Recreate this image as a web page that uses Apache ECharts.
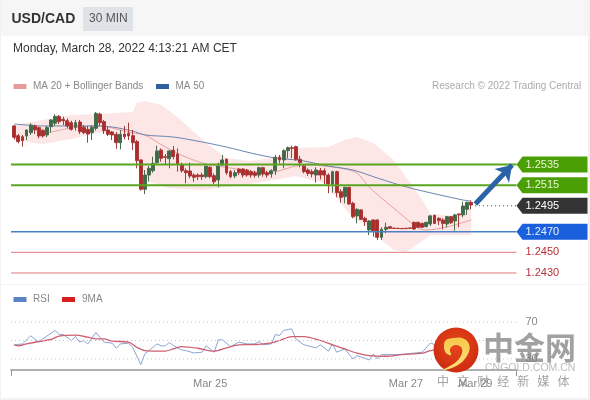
<!DOCTYPE html>
<html><head><meta charset="utf-8">
<style>html,body{margin:0;padding:0;background:#fff}#c{width:590px;height:400px}</style>
<script src="https://cdn.jsdelivr.net/npm/echarts@6/dist/echarts.min.js"></script>
</head><body><div id="c"></div>
<script>
// open, close, low, high
const candles=[
[1.25723,1.25613,1.25593,1.25732],[1.25629,1.25571,1.25555,1.25645],[1.25619,1.25581,1.25523,1.25636],[1.25626,1.25684,1.25587,1.25690],
[1.25658,1.25732,1.25636,1.25749],[1.25723,1.25684,1.25645,1.25736],[1.25707,1.25626,1.25603,1.25716],[1.25681,1.25626,1.25610,1.25690],
[1.25636,1.25707,1.25613,1.25723],[1.25716,1.25781,1.25658,1.25787],[1.25749,1.25816,1.25723,1.25836],[1.25816,1.25765,1.25742,1.25829],
[1.25787,1.25774,1.25732,1.25813],[1.25774,1.25723,1.25700,1.25797],[1.25755,1.25690,1.25678,1.25774],[1.25710,1.25755,1.25678,1.25781],
[1.25761,1.25668,1.25645,1.25781],[1.25710,1.25658,1.25645,1.25732],[1.25690,1.25645,1.25561,1.25723],[1.25658,1.25710,1.25587,1.25729],
[1.25700,1.25845,1.25678,1.25858],[1.25838,1.25755,1.25723,1.25852],[1.25765,1.25678,1.25645,1.25781],[1.25684,1.25642,1.25626,1.25716],
[1.25665,1.25636,1.25587,1.25674],[1.25642,1.25561,1.25503,1.25665],[1.25561,1.25642,1.25497,1.25684],[1.25645,1.25619,1.25593,1.25723],
[1.25652,1.25626,1.25587,1.25755],[1.25629,1.25561,1.25490,1.25684],[1.25571,1.25387,1.25313,1.25587],[1.25394,1.25110,1.25097,1.25400],
[1.25110,1.25248,1.25064,1.25297],[1.25248,1.25313,1.25184,1.25335],[1.25290,1.25361,1.25271,1.25426],[1.25368,1.25481,1.25355,1.25532],
[1.25490,1.25410,1.25377,1.25506],[1.25426,1.25419,1.25355,1.25452],[1.25406,1.25481,1.25313,1.25490],[1.25487,1.25426,1.25400,1.25529],
[1.25452,1.25355,1.25281,1.25506],[1.25345,1.25290,1.25271,1.25368],[1.25290,1.25271,1.25168,1.25313],[1.25287,1.25239,1.25216,1.25368],
[1.25248,1.25226,1.25184,1.25264],[1.25248,1.25232,1.25200,1.25264],[1.25248,1.25232,1.25200,1.25271],[1.25232,1.25335,1.25216,1.25335],
[1.25323,1.25232,1.25216,1.25335],[1.25242,1.25184,1.25161,1.25264],[1.25200,1.25335,1.25129,1.25368],[1.25345,1.25394,1.25335,1.25442],
[1.25400,1.25271,1.25248,1.25410],[1.25281,1.25232,1.25216,1.25297],[1.25239,1.25271,1.25216,1.25297],[1.25306,1.25271,1.25248,1.25313],
[1.25306,1.25248,1.25223,1.25313],[1.25297,1.25248,1.25232,1.25306],[1.25281,1.25248,1.25223,1.25297],[1.25271,1.25245,1.25223,1.25290],
[1.25248,1.25319,1.25223,1.25329],[1.25319,1.25258,1.25232,1.25329],[1.25271,1.25248,1.25223,1.25290],[1.25258,1.25290,1.25223,1.25303],
[1.25290,1.25419,1.25248,1.25442],[1.25419,1.25394,1.25361,1.25442],[1.25394,1.25484,1.25313,1.25497],[1.25484,1.25513,1.25410,1.25523],
[1.25513,1.25506,1.25410,1.25532],[1.25523,1.25400,1.25385,1.25532],[1.25400,1.25368,1.25323,1.25432],[1.25335,1.25281,1.25264,1.25355],
[1.25297,1.25264,1.25239,1.25313],[1.25281,1.25258,1.25226,1.25303],[1.25248,1.25297,1.25174,1.25323],[1.25290,1.25248,1.25206,1.25316],
[1.25290,1.25248,1.25161,1.25313],[1.25248,1.25161,1.25071,1.25264],[1.25161,1.25281,1.25077,1.25290],[1.25281,1.25077,1.25033,1.25290],
[1.25087,1.25032,1.24980,1.25110],[1.25039,1.25129,1.24974,1.25135],[1.25129,1.24968,1.24958,1.25135],[1.24974,1.24845,1.24829,1.24990],
[1.24852,1.24916,1.24780,1.24926],[1.24910,1.24819,1.24813,1.24916],[1.24829,1.24797,1.24755,1.24845],[1.24716,1.24803,1.24667,1.24813],
[1.24813,1.24709,1.24651,1.24819],[1.24813,1.24645,1.24619,1.24819],[1.24645,1.24722,1.24619,1.24742],[1.24722,1.24742,1.24684,1.24787],
[1.24748,1.24732,1.24729,1.24748],[1.24735,1.24731,1.24731,1.24735],[1.24733,1.24730,1.24730,1.24733],[1.24731,1.24728,1.24728,1.24731],
[1.24733,1.24729,1.24729,1.24733],[1.24736,1.24732,1.24732,1.24736],[1.24790,1.24726,1.24716,1.24797],[1.24790,1.24742,1.24735,1.24797],
[1.24780,1.24742,1.24735,1.24787],[1.24748,1.24790,1.24742,1.24797],[1.24774,1.24852,1.24755,1.24862],[1.24858,1.24780,1.24774,1.24864],
[1.24829,1.24806,1.24764,1.24838],[1.24813,1.24780,1.24722,1.24829],[1.24774,1.24845,1.24742,1.24852],[1.24845,1.24787,1.24774,1.24852],
[1.24803,1.24862,1.24709,1.24872],[1.24872,1.24862,1.24742,1.24872],[1.24862,1.24948,1.24838,1.24990],[1.24916,1.24984,1.24862,1.24990],
[1.24984,1.24958,1.24916,1.25000]
];
// [bar index, value] readings
const bbUpper=[[0,1.25732],[7,1.25781],[14,1.25829],[20,1.25839],[29,1.25858],[30,1.25945],[32,1.25965],[36,1.25926],[40,1.25810],[43,1.25703],[47,1.25558],[52,1.25413],[58,1.25384],[64,1.25423],[69,1.25510],[77,1.25519],[81,1.25587],[84,1.25616],[88,1.25558],[93,1.25394],[96,1.25229],[100,1.25006],[102,1.24871],[109,1.24851],[112,1.24929]];
const bbLower=[[0,1.25587],[7,1.25548],[14,1.25597],[20,1.25655],[29,1.25645],[31,1.25316],[33,1.25181],[38,1.25123],[46,1.25103],[50,1.25123],[55,1.25142],[69,1.25239],[76,1.25171],[80,1.24977],[83,1.24832],[87,1.24745],[90,1.24619],[93,1.24522],[96,1.24503],[100,1.24609],[102,1.24668],[112,1.24668]];
const ma20=[[8,1.25655],[14,1.25703],[21,1.25723],[23,1.25713],[29,1.25655],[32,1.25636],[37,1.25519],[42,1.25423],[47,1.25355],[53,1.25316],[62,1.25268],[69,1.25335],[72,1.25345],[78,1.25326],[81,1.25306],[84,1.25268],[87,1.25132],[90,1.25026],[95,1.24861],[99,1.24735],[101,1.24716],[106,1.24745],[112,1.24813]];
const ma50=[[0,1.25742],[7,1.25723],[14,1.25723],[20,1.25723],[24,1.25713],[29,1.25674],[32,1.25636],[39,1.25616],[46,1.25568],[52,1.25519],[58,1.25461],[64,1.25413],[69,1.25394],[71,1.25384],[77,1.25335],[83,1.25297],[89,1.25219],[97,1.25123],[110,1.25006],[112,1.24997]];
const rsi=[[0,45.3],[2,46.3],[4,55.1],[6,48.2],[7,51.8],[10,60.9],[11,56.5],[12,56.5],[14,50],[15,54.3],[16,48.2],[17,50],[18,46.3],[20,58.7],[22,48.2],[24,47.1],[25,41.6],[26,46.3],[28,47.1],[29,42.7],[31,23.8],[32,35.4],[35,46.3],[36,44.2],[37,44.2],[38,47.8],[39,44.5],[41,39.8],[42,39.1],[44,36.5],[46,37.3],[47,44.2],[49,37.3],[50,50.7],[51,50.7],[53,43.4],[55,48.2],[57,46.3],[59,46.3],[60,48.9],[61,45.3],[63,46.3],[64,56.5],[65,55.4],[66,60.9],[68,62.7],[69,51.8],[71,45.3],[74,42],[75,45.3],[77,38.4],[78,46.3],[79,37.3],[81,40.9],[83,30],[84,33.6],[87,28.9],[88,35.4],[89,30],[90,34.7],[94,34.7],[96,35.4],[100,37.3],[102,47.4],[105,42],[108,44],[110,50],[112,52]];
const rsiMa=[[0,45.3],[1,44.2],[3,46.3],[6,48.9],[9,51.1],[11,54.7],[15,55.8],[18,53.6],[20,51.8],[22,51.8],[24,49.3],[28,48.2],[30,42.7],[32,39.1],[37,38.4],[39,40.9],[41,43.4],[45,41.6],[49,38.4],[52,42],[55,45.3],[59,45.6],[63,47.4],[65,50],[68,54.3],[71,54.3],[75,50],[78,45.3],[81,40.9],[84,36.2],[87,33.6],[91,32.9],[95,34.7],[100,36.2],[102,39.1],[106,41],[112,46]];
const resistanceLevels=[1.2535,1.2515];
const pivotLevel=[1.2470];
const supportLevels=[1.2450,1.2430];
const lastPrice=[1.2495];
const rsiLevels=[30,50,70];
const rsiLabels=[30,70];
const dateTicks={48:'Mar 25',96:'Mar 27',113:'Mar 29'};
const forecastArrow=[[113,1.24968],[122,1.25345]];
const barSlots=124;

const FONT='"Liberation Sans"';
const cats=Array.from({length:barSlots},(_,i)=>dateTicks[i]||'');
const gTop=97.35,gH=185.95,rTop=311,rH=59;
const barLeft=12.26,barW=505.9,lineLeft=11,lineW=505.5;
const yCfg={type:'value',min:1.242,max:1.26,show:false,scale:true};
const rCfg={type:'value',min:18,max:82,splitLine:{show:false},axisLine:{show:false},axisTick:{show:false}};
const hLine=(name,xi,yi,val,style,from)=>({type:'line',name,xAxisIndex:xi,yAxisIndex:yi,symbol:'none',silent:true,z:5,
  lineStyle:style,data:[[from||0,val],[1,val]]});
const tagRows=[
 ...resistanceLevels.map(v=>[1,v,'tag','#4a9f05','#e8f5d0']),
 ...lastPrice.map(v=>[1,v,'tag','#333333','#ffffff']),
 ...pivotLevel.map(v=>[1,v,'tag','#1a5fdc','#e8f0ff']),
 ...supportLevels.map(v=>[1,v,'plain','','#b5303a'])
];
const txt=(text,x,y,fill,font,extra)=>({type:'text',z:50,silent:true,style:Object.assign({text,x,y,fill,font,textVerticalAlign:'middle'},extra||{})});
const rect=(x,y,w,h,fill,z,r)=>({type:'rect',z:z==null?50:z,silent:true,shape:{x,y,width:w,height:h,r:r||0},style:{fill}});
const graphic=[
 rect(0,0,590,36,'#f6f6f6',-1),
 rect(83,7,50,24,'#dfe2e7',-1),
 rect(0,284,590,1,'#f1f3f4',-1),
 rect(0,0,1,400,'#f2f2f2',-1),rect(588,0,2,400,'#f2f2f2',-1),rect(0,398,590,2,'#f2f2f2',-1),
 txt('USD/CAD',11.5,19,'#333','bold 14px '+FONT),
 txt('30 MIN',89,19,'#555','12px '+FONT),
 txt('Monday, March 28, 2022 4:13:21 AM CET',13,48.5,'#333','12px '+FONT),
 rect(13.5,84,13,5,'#e89a9a'),
 txt('MA 20 + Bollinger Bands',33,86.5,'#888','10px '+FONT),
 rect(156,84,13,5,'#2f5f9e'),
 txt('MA 50',175.5,86.5,'#888','10px '+FONT),
 txt('Research \u00a9 2022 Trading Central',432,86.5,'#aaa','10px '+FONT),
 rect(13.5,297,13,5,'#5b84c4'),
 txt('RSI',33,299.5,'#888','10px '+FONT),
 rect(62,297,13,5,'#d81e1e'),
 txt('9MA',82,299.5,'#888','10px '+FONT),
 // watermark
 {type:'circle',z:60,silent:true,shape:{cx:456,cy:350,r:22.5},style:{fill:{type:'radial',x:0.5,y:0.4,r:0.7,colorStops:[{offset:0,color:'#e8481c'},{offset:1,color:'#c9260f'}]}}},
 {type:'polygon',z:61,silent:true,shape:{smooth:0.4,points:[[443,370],[458,365],[468,354],[469,344],[462,338],[454,338],[446,340],[444,346],[446,353],[451,355],[450,349],[455,345],[461,347],[462,353],[456,362]]},
  style:{fill:{type:'linear',x:0,y:0,x2:0,y2:1,colorStops:[{offset:0,color:'#f6c94a'},{offset:1,color:'#fbe27a'}]}}},
 txt('\u4e2d\u91d1\u7f51',483,347,'rgba(125,125,125,0.72)','bold 31px "Noto Sans CJK SC"',{}),
 txt('CNGOLD.COM.CN',485,368.5,'rgba(165,165,165,0.75)','10.5px '+FONT),
 txt('\u4e2d   \u6587   \u8d22   \u7ecf   \u65b0   \u5a92   \u4f53',437,381.5,'rgba(130,130,130,0.75)','12px "Noto Sans CJK SC"')
];
const option={
 animation:false,backgroundColor:'#fff',textStyle:{fontFamily:FONT},
 grid:[
  {left:barLeft,width:barW,top:gTop,height:gH},
  {left:lineLeft,width:lineW,top:gTop,height:gH},
  {left:barLeft,width:barW,top:rTop,height:rH},
  {left:lineLeft,width:lineW,top:rTop,height:rH}
 ],
 xAxis:[
  {type:'category',gridIndex:0,data:cats,show:false},
  {type:'value',gridIndex:1,min:0,max:1,show:false},
  {type:'category',gridIndex:2,data:cats,axisLine:{show:false},axisTick:{show:false},splitLine:{show:false},
   axisLabel:{interval:0,color:'#888',fontSize:11,margin:8,fontFamily:FONT,hideOverlap:false}},
  {type:'value',gridIndex:3,min:0,max:1,interval:1,axisLabel:{show:false},splitLine:{show:false},
   axisLine:{show:true,onZero:false,lineStyle:{color:'#b0b0b0',width:2}},axisTick:{show:true,length:6,lineStyle:{color:'#999999',width:1}}}
 ],
 yAxis:[
  Object.assign({gridIndex:0},yCfg),
  Object.assign({gridIndex:1},yCfg),
  Object.assign({gridIndex:2,show:false},rCfg),
  Object.assign({gridIndex:3,position:'right',axisLabel:{customValues:rsiLabels,color:'#888',fontSize:11,margin:9,fontFamily:FONT}},rCfg)
 ],
 series:[
  {type:'custom',name:'Bollinger',xAxisIndex:0,yAxisIndex:0,z:1,silent:true,clip:false,data:[[0,1.25]],
   renderItem:(p,api)=>{
     const pts=bbUpper.map(a=>api.coord(a)).concat(bbLower.slice().reverse().map(a=>api.coord(a)));
     return {type:'polygon',shape:{points:pts},style:{fill:'#fde6e6'}};
   }},
  {type:'line',name:'MA 20',xAxisIndex:0,yAxisIndex:0,z:2,symbol:'none',smooth:0.3,silent:true,lineStyle:{color:'#e6a0a0',width:1},data:ma20},
  {type:'line',name:'MA 50',xAxisIndex:0,yAxisIndex:0,z:2,symbol:'none',smooth:0.3,silent:true,lineStyle:{color:'#6a86b0',width:1},data:ma50},
  {type:'candlestick',name:'USD/CAD',xAxisIndex:0,yAxisIndex:0,z:3,barWidth:3.4,silent:true,data:candles,
   itemStyle:{color:'#3d6b45',color0:'#b02a2a',borderColor:'#4a6d50',borderColor0:'#a83a3a',borderWidth:1}},
  ...resistanceLevels.map(v=>hLine('R'+v,1,1,v,{color:'#5aa520',width:2})),
  ...pivotLevel.map(v=>hLine('P'+v,1,1,v,{color:'#4a80c4',width:1.5})),
  ...supportLevels.map(v=>hLine('S'+v,1,1,v,{color:'#dc7c7c',width:1})),
  ...lastPrice.map(v=>hLine('L'+v,1,1,v,{color:'#444',width:1,type:[1,3]},0.918)),
  {type:'custom',name:'Tags',xAxisIndex:1,yAxisIndex:1,z:6,silent:true,clip:false,data:tagRows.map(r=>[r[0],r[1]]),
   renderItem:(p,api)=>{
     const c=api.coord([api.value(0),api.value(1)]),row=tagRows[p.dataIndex],x=c[0],y=c[1];
     const label={type:'text',style:{text:api.value(1).toFixed(4),x:x+9,y:y,fill:row[4],font:'11px '+FONT,textVerticalAlign:'middle'}};
     if(row[2]!=='tag') return label;
     return {type:'group',children:[
       {type:'polygon',shape:{points:[[x,y],[x+6,y-8],[x+71,y-8],[x+71,y+8],[x+6,y+8]]},style:{fill:row[3]}},label]};
   }},
  {type:'line',name:'Arrow',xAxisIndex:0,yAxisIndex:0,z:7,symbol:'none',silent:true,lineStyle:{width:0},data:[],
   markLine:{silent:true,animation:false,z:7,symbol:['none','arrow'],symbolSize:[15,15],label:{show:false},lineStyle:{color:'#2c62a6',width:5,type:'solid'},
    data:[[{coord:forecastArrow[0]},{coord:forecastArrow[1]}]]}},
  ...rsiLevels.map(v=>hLine('RL'+v,3,3,v,{color:'#c4c4c4',width:1,type:[1,3]})),
  {type:'line',name:'RSI',xAxisIndex:2,yAxisIndex:2,z:3,symbol:'none',silent:true,lineStyle:{color:'#8aa5d0',width:1},data:rsi},
  {type:'line',name:'9MA',xAxisIndex:2,yAxisIndex:2,z:4,symbol:'none',smooth:0.3,silent:true,lineStyle:{color:'#cc6072',width:1.3},data:rsiMa}
 ],
 graphic:graphic
};
const chart=echarts.init(document.getElementById('c'),null,{renderer:'canvas'});
chart.setOption(option);
</script></body></html>
